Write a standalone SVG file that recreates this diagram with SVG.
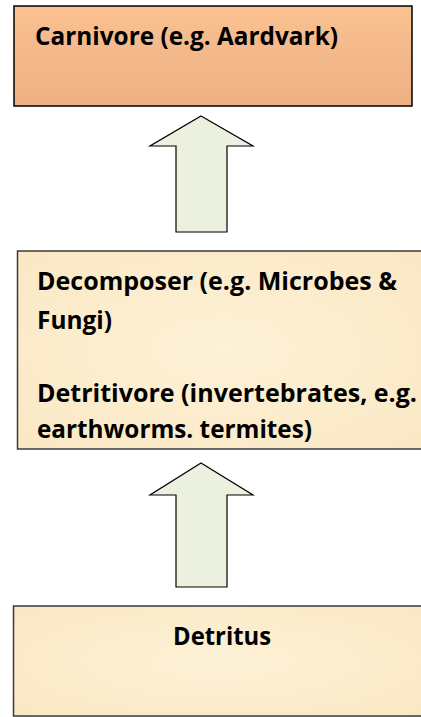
<svg xmlns="http://www.w3.org/2000/svg" width="421" height="717" viewBox="0 0 421 717">
  <defs>
    <linearGradient id="orange" x1="0" y1="0" x2="0" y2="1">
      <stop offset="0" stop-color="#fac191"/>
      <stop offset="1" stop-color="#edb083"/>
    </linearGradient>
    <radialGradient id="parch" cx="0.5" cy="0.5" r="0.7">
      <stop offset="0" stop-color="#fdf1d6"/>
      <stop offset="1" stop-color="#fae8c4"/>
    </radialGradient>
    <style>
      .lbl { font-family: "Open Sans", "Liberation Sans", sans-serif; font-weight: bold; font-size: 25px; fill: #000; }
      .arrow { fill: #ebf1de; stroke: #000; stroke-width: 1.2; stroke-linejoin: miter; }
      .parch { fill: url(#parch); stroke: #3a3a3a; stroke-width: 1.5; }
    </style>
  </defs>
  <rect width="421" height="717" fill="#ffffff"/>

  <g id="node-carnivore">
    <rect x="14" y="6" width="398" height="100" fill="url(#orange)" stroke="#000" stroke-width="1.5"/>
    <text class="lbl" x="35" y="45" textLength="303" lengthAdjust="spacingAndGlyphs">Carnivore (e.g. Aardvark)</text>
  </g>

  <g id="node-decomposer">
    <rect class="parch" x="17.5" y="251" width="410" height="198"/>
    <text class="lbl" x="37" y="290" textLength="360" lengthAdjust="spacingAndGlyphs">Decomposer (e.g. Microbes &amp;</text>
    <text class="lbl" x="37" y="329" textLength="75" lengthAdjust="spacingAndGlyphs">Fungi)</text>
    <text class="lbl" x="37" y="402" textLength="380" lengthAdjust="spacingAndGlyphs">Detritivore (invertebrates, e.g.</text>
    <text class="lbl" x="37" y="438" textLength="275" lengthAdjust="spacingAndGlyphs">earthworms. termites)</text>
  </g>

  <g id="node-detritus">
    <rect class="parch" x="13.5" y="606" width="415" height="110"/>
    <text class="lbl" x="173" y="645" textLength="98" lengthAdjust="spacingAndGlyphs">Detritus</text>
  </g>

  <g id="connectors">
    <polygon class="arrow" points="201,116 253,146 227,146 227,232 176,232 176,146 150,146"/>
    <polygon class="arrow" points="201,463 253,495 227,495 227,587 176,587 176,495 150,495"/>
  </g>
</svg>
